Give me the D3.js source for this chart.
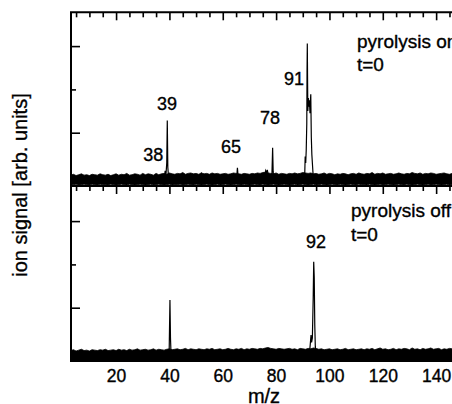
<!DOCTYPE html>
<html>
<head>
<meta charset="utf-8">
<script src="https://cdn.jsdelivr.net/npm/d3@7"></script>
<style>
body { margin: 0; background: #fff; }
text { font-family: "Liberation Sans", Arial, sans-serif; fill: #000; stroke: #000; stroke-width: 0.35px; }
</style>
</head>
<body>
<div id="chart"></div>
<script>
// axis ticks (m/z) and y ticks (arb. units, no labels)
var xTickMajor = [20, 40, 60, 80, 100, 120, 140];
var xTickMinor = [5, 10, 15, 25, 30, 35, 45, 50, 55, 65, 70, 75, 85, 90, 95, 105, 110, 115, 125, 130, 135, 145, 150];
var yTickMajor = [1, 3];
var yTickMinor = [2];

// baseline noise, one reading per m/z unit starting at m/z 3 (top and bottom of the band)
var noiseHiOn = [
  0.02,0.04,0.01,0.03,0.05,0.02,0.03,0.01,0.04,0.03,
  0.02,0.05,0.03,0.02,0.04,0.01,0.03,0.05,0.02,0.04,
  0.03,0.06,0.02,0.03,0.05,0.04,0.02,0.06,0.03,0.05,
  0.04,0.02,0.06,0.03,0.05,0.06,0.04,0.07,0.05,0.04,
  0.06,0.05,0.08,0.04,0.06,0.07,0.05,0.06,0.04,0.07,
  0.05,0.06,0.04,0.07,0.05,0.06,0.04,0.05,0.06,0.04,
  0.05,0.07,0.06,0.05,0.04,0.06,0.05,0.04,0.06,0.05,
  0.07,0.06,0.08,0.09,0.07,0.06,0.05,0.07,0.04,0.06,
  0.05,0.04,0.06,0.05,0.07,0.05,0.06,0.08,0.07,0.06,
  0.07,0.05,0.06,0.04,0.05,0.07,0.04,0.06,0.05,0.03,
  0.05,0.04,0.06,0.05,0.03,0.05,0.06,0.04,0.07,0.05,
  0.04,0.06,0.05,0.08,0.04,0.06,0.05,0.07,0.04,0.05,
  0.06,0.04,0.05,0.07,0.05,0.04,0.06,0.05,0.08,0.06,
  0.05,0.07,0.04,0.06,0.05,0.07,0.06,0.04,0.05,0.06,
  0.07,0.05,0.04,0.06,0.05,0.07,0.04,0.05];
var noiseLoOn = [
  -0.19,-0.20,-0.19,-0.21,-0.20,-0.19,-0.20,-0.21,-0.19,-0.20,
  -0.21,-0.19,-0.20,-0.20,-0.21,-0.19,-0.20,-0.21,-0.20,-0.19,
  -0.20,-0.21,-0.19,-0.20,-0.21,-0.20,-0.19,-0.20,-0.21,-0.20,
  -0.19,-0.21,-0.20,-0.19,-0.20,-0.21,-0.20,-0.19,-0.21,-0.20,
  -0.20,-0.19,-0.21,-0.20,-0.19,-0.20,-0.21,-0.19,-0.20,-0.21,
  -0.20,-0.19,-0.20,-0.21,-0.20,-0.19,-0.21,-0.20,-0.19,-0.20,
  -0.21,-0.20,-0.19,-0.20,-0.21,-0.19,-0.20,-0.21,-0.20,-0.19,
  -0.20,-0.21,-0.19,-0.20,-0.21,-0.20,-0.19,-0.20,-0.21,-0.20,
  -0.19,-0.20,-0.21,-0.20,-0.19,-0.21,-0.20,-0.19,-0.20,-0.21,
  -0.20,-0.19,-0.21,-0.20,-0.19,-0.20,-0.21,-0.20,-0.19,-0.20,
  -0.21,-0.19,-0.20,-0.21,-0.20,-0.19,-0.20,-0.21,-0.19,-0.20,
  -0.20,-0.21,-0.19,-0.20,-0.21,-0.20,-0.19,-0.21,-0.20,-0.19,
  -0.20,-0.21,-0.20,-0.19,-0.20,-0.21,-0.19,-0.20,-0.21,-0.20,
  -0.19,-0.20,-0.21,-0.20,-0.19,-0.21,-0.20,-0.19,-0.20,-0.21,
  -0.20,-0.19,-0.21,-0.20,-0.19,-0.20,-0.21,-0.20];
var noiseHiOff = [
  0.01,0.03,0.00,0.02,0.04,0.01,0.02,0.00,0.03,0.02,
  0.01,0.03,0.02,0.04,0.01,0.02,0.03,0.01,0.04,0.02,
  0.03,0.01,0.04,0.02,0.03,0.05,0.02,0.03,0.04,0.02,
  0.03,0.05,0.02,0.04,0.03,0.02,0.04,0.05,0.03,0.04,
  0.05,0.03,0.04,0.06,0.03,0.05,0.04,0.03,0.05,0.04,
  0.03,0.05,0.04,0.06,0.03,0.04,0.05,0.03,0.04,0.06,
  0.04,0.03,0.05,0.04,0.06,0.03,0.05,0.04,0.06,0.05,
  0.04,0.06,0.05,0.07,0.08,0.06,0.05,0.04,0.06,0.05,
  0.04,0.05,0.06,0.04,0.05,0.03,0.06,0.05,0.04,0.06,
  0.05,0.07,0.06,0.04,0.05,0.03,0.04,0.05,0.03,0.04,
  0.05,0.03,0.04,0.06,0.03,0.04,0.05,0.03,0.04,0.05,
  0.03,0.05,0.04,0.06,0.03,0.05,0.07,0.04,0.05,0.03,
  0.04,0.06,0.03,0.05,0.04,0.06,0.05,0.03,0.07,0.04,
  0.05,0.03,0.06,0.04,0.05,0.07,0.04,0.05,0.06,0.03,
  0.05,0.04,0.06,0.05,0.03,0.05,0.04,0.06];
var noiseLoOff = [
  -0.22,-0.21,-0.22,-0.23,-0.22,-0.21,-0.22,-0.23,-0.21,-0.22,
  -0.23,-0.22,-0.21,-0.22,-0.23,-0.22,-0.21,-0.22,-0.23,-0.21,
  -0.22,-0.23,-0.22,-0.21,-0.22,-0.23,-0.21,-0.22,-0.22,-0.23,
  -0.21,-0.22,-0.23,-0.22,-0.21,-0.22,-0.23,-0.22,-0.21,-0.22,
  -0.23,-0.21,-0.22,-0.23,-0.22,-0.21,-0.22,-0.23,-0.22,-0.21,
  -0.22,-0.23,-0.21,-0.22,-0.22,-0.23,-0.21,-0.22,-0.23,-0.22,
  -0.21,-0.22,-0.23,-0.22,-0.21,-0.23,-0.22,-0.21,-0.22,-0.23,
  -0.22,-0.21,-0.22,-0.23,-0.21,-0.22,-0.23,-0.22,-0.21,-0.22,
  -0.23,-0.22,-0.21,-0.22,-0.23,-0.21,-0.22,-0.22,-0.23,-0.21,
  -0.22,-0.23,-0.22,-0.21,-0.22,-0.23,-0.21,-0.22,-0.23,-0.22,
  -0.21,-0.22,-0.23,-0.22,-0.21,-0.22,-0.23,-0.21,-0.22,-0.23,
  -0.22,-0.21,-0.22,-0.23,-0.22,-0.21,-0.23,-0.22,-0.21,-0.22,
  -0.23,-0.22,-0.21,-0.22,-0.23,-0.21,-0.22,-0.23,-0.22,-0.21,
  -0.22,-0.23,-0.22,-0.21,-0.22,-0.23,-0.21,-0.22,-0.23,-0.22,
  -0.21,-0.22,-0.23,-0.22,-0.21,-0.22,-0.23,-0.22];
var noiseStart = 3;

// peaks above the noise, null breaks the line between groups
var peaksOnMz  = [38.1, 38.4, 38.7, 39.0, 39.2, 39.4, 39.7, null,
                  51.8, 52.0, 52.2, null,
                  65.2, 65.5, 65.8, null,
                  75.8, 76.1, 76.4, 76.7, 77.0, 77.3, 78.4, 78.7, 78.9, 79.1, null,
                  90.7, 90.9, 91.1, 91.3, 91.5, 91.6, 91.7, 91.8, 91.9, 92.1, 92.3, 92.5, 92.7, 92.85, 93.0, 93.2, 93.4, 93.6, 93.8, 94.0];
var peaksOnVal = [-0.05, 0.12, 0.02, 0.30, 1.28, 0.20, -0.05, null,
                  -0.05, 0.08, -0.05, null,
                  -0.05, 0.19, -0.05, null,
                  -0.05, 0.12, 0.08, 0.14, 0.05, 0.02, -0.05, 0.65, 0.10, -0.05, null,
                  -0.05, 0.45, 0.30, 0.60, 1.20, 2.40, 3.06, 2.20, 1.50, 1.80, 1.60, 1.75, 1.45, 1.70, 1.89, 0.90, 0.50, 0.30, 0.10, -0.05];
var peaksOffMz  = [39.9, 40.2, 40.4, 40.6, null,
                   77.2, 77.4, 77.6, null,
                   92.5, 92.8, 93.1, 93.3, 93.6, 93.9, 94.1, 94.3, 94.5, 94.7, 94.9];
var peaksOffVal = [-0.05, 1.18, 0.30, -0.05, null,
                   -0.05, 0.07, -0.05, null,
                   -0.05, 0.15, 0.37, 0.20, 0.30, 1.20, 2.06, 1.70, 0.60, 0.10, -0.05];

// peak annotations
var labelsOn    = ["38", "39", "65", "78", "91"];
var labelsOnMz  = [33.9, 39.1, 63.1, 77.7, 86.7];
var labelsOnVal = [0.35, 1.52, 0.53, 1.20, 2.10];
var labelsOff    = ["92"];
var labelsOffMz  = [95.0];
var labelsOffVal = [2.39];

var W = 452, H = 404;
var top0 = 12.3, mid0 = 186, bot0 = 361, left0 = 71;

var svg = d3.select("#chart").append("svg")
    .attr("width", W)
    .attr("height", H);

var x = d3.scaleLinear().domain([3.1, 150]).range([left0, 462.8]);
var yOn = d3.scaleLinear().domain([0, 4]).range([176, 2.8]);
var yOff = d3.scaleLinear().domain([0, 4]).range([351, 177.8]);

var defs = svg.append("defs");
defs.append("clipPath").attr("id", "clipOn").append("rect")
    .attr("x", left0).attr("y", top0).attr("width", W - left0).attr("height", mid0 - top0);
defs.append("clipPath").attr("id", "clipOff").append("rect")
    .attr("x", left0).attr("y", mid0).attr("width", W - left0).attr("height", bot0 - mid0);

function drawSpectrum(y, hi, lo, pMz, pVal, clip) {
    var g = svg.append("g").attr("clip-path", `url(#${clip})`);
    var n = Math.min(hi.length, lo.length);
    var idx = d3.range(n);

    var band = d3.area()
        .x(i => x(noiseStart + i))
        .y0(i => y(lo[i]))
        .y1(i => y(hi[i]));
    g.append("path")
        .attr("d", band(idx))
        .attr("fill", "#000")
        .attr("stroke", "#000")
        .attr("stroke-width", 0.8);

    var pts = pMz.map((m, i) => [m, pVal[i]]);
    var line = d3.line()
        .defined(d => d[0] != null)
        .x(d => x(d[0]))
        .y(d => y(d[1]));
    g.append("path")
        .attr("d", line(pts))
        .attr("fill", "none")
        .attr("stroke", "#000")
        .attr("stroke-width", 1.2);
}

drawSpectrum(yOn, noiseHiOn, noiseLoOn, peaksOnMz, peaksOnVal, "clipOn");
drawSpectrum(yOff, noiseHiOff, noiseLoOff, peaksOffMz, peaksOffVal, "clipOff");

// frame
svg.append("path")
    .attr("d", `M${x.range()[1]},${top0}H${left0}V${bot0}H${x.range()[1]}M${left0},${mid0}H${x.range()[1]}`)
    .attr("fill", "none")
    .attr("stroke", "#000")
    .attr("stroke-width", 2);

function tickAxis(axis, tx, ty) {
    var g = svg.append("g")
        .attr("transform", `translate(${tx},${ty})`)
        .call(axis);
    g.select(".domain").remove();
    g.selectAll("line").attr("stroke", "#000").attr("stroke-width", 1.6);
    return g;
}

// x ticks, inward on every horizontal line
[[top0, "down"], [mid0, "down"], [bot0, "up"]].forEach(function (p) {
    var mk = p[1] == "down" ? d3.axisBottom : d3.axisTop;
    tickAxis(mk(x).tickValues(xTickMajor).tickSize(8).tickFormat(""), 0, p[0]);
    tickAxis(mk(x).tickValues(xTickMinor).tickSize(5).tickFormat(""), 0, p[0]);
});

// y ticks on the left, pointing right
[yOn, yOff].forEach(function (y) {
    tickAxis(d3.axisRight(y).tickValues(yTickMajor).tickSize(9).tickFormat(""), left0, 0);
    tickAxis(d3.axisRight(y).tickValues(yTickMinor).tickSize(5).tickFormat(""), left0, 0);
});

// x tick labels
var xl = svg.append("g")
    .attr("transform", `translate(0,${bot0})`)
    .call(d3.axisBottom(x).tickValues(xTickMajor).tickSize(0).tickPadding(9));
xl.select(".domain").remove();
xl.selectAll("text")
    .style("font-family", '"Liberation Sans", Arial, sans-serif')
    .style("font-size", "17.5px")
    .attr("fill", "#000");

// peak labels
labelsOn.forEach(function (t, i) {
    svg.append("text")
        .attr("x", x(labelsOnMz[i]))
        .attr("y", yOn(labelsOnVal[i]))
        .attr("text-anchor", "middle")
        .style("font-size", "18px")
        .text(t);
});
labelsOff.forEach(function (t, i) {
    svg.append("text")
        .attr("x", x(labelsOffMz[i]))
        .attr("y", yOff(labelsOffVal[i]))
        .attr("text-anchor", "middle")
        .style("font-size", "18px")
        .text(t);
});

// panel notes
function note(tx, ty, s) {
    svg.append("text").attr("x", tx).attr("y", ty).style("font-size", "19px").text(s);
}
note(357, 48, "pyrolysis on");
note(357, 71, "t=0");
note(351, 217, "pyrolysis off");
note(351, 241, "t=0");

// axis titles
svg.append("text")
    .attr("x", 264)
    .attr("y", 403)
    .attr("text-anchor", "middle")
    .style("font-size", "20px")
    .text("m/z");

svg.append("text")
    .attr("transform", "translate(27,185) rotate(-90)")
    .attr("text-anchor", "middle")
    .style("font-size", "20px")
    .text("ion signal [arb. units]");
</script>
</body>
</html>
